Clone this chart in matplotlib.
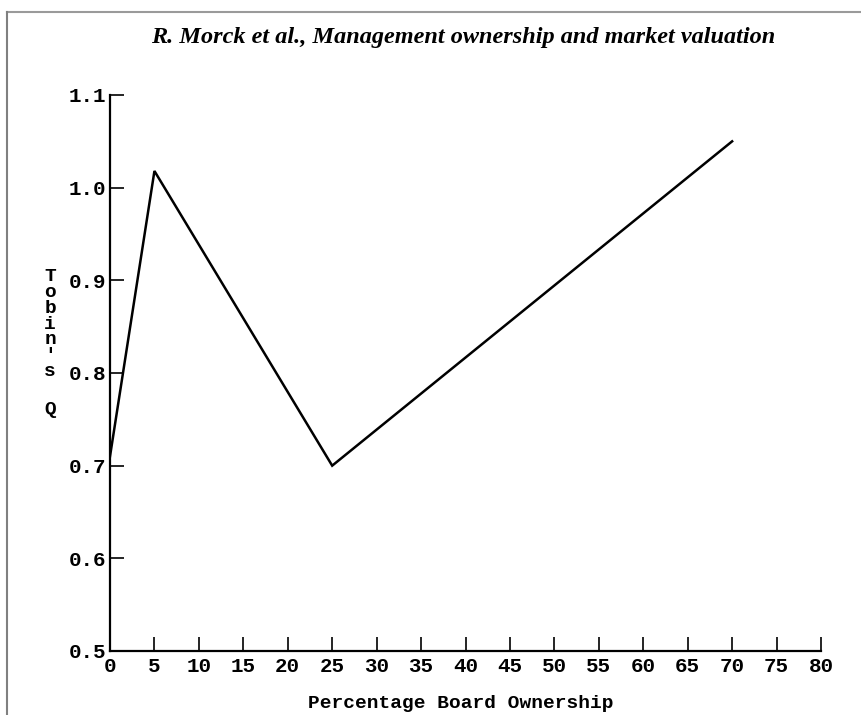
import matplotlib
matplotlib.use("Agg")
import matplotlib.pyplot as plt
from matplotlib.lines import Line2D

# Data
ownership = [0, 5, 25, 70]
tobins_q = [0.71, 1.018, 0.70, 1.05]
x_ticks = list(range(0, 85, 5))
y_ticks = [0.5, 0.6, 0.7, 0.8, 0.9, 1.0, 1.1]
y_tick_labels = ["0.5", "0.6", "0.7", "0.8", "0.9", "1.0", "1.1"]
title = "R. Morck et al., Management ownership and market valuation"
xlabel = "Percentage Board Ownership"
ylabel_top = ["T", "o", "b", "i", "n", "'", "s"]
ylabel_bottom = "Q"

mono = ["Liberation Mono", "DejaVu Sans Mono"]
serif = ["Liberation Serif", "DejaVu Serif"]

fig = plt.figure(figsize=(8.61, 7.15), dpi=100)
ax = fig.add_axes([110/861, 1-651/715, (821-110)/861, (651-95)/715])

ax.plot(ownership, tobins_q, color="black", lw=1.8, solid_joinstyle="miter")

ax.set_xlim(0, 80)
ax.set_ylim(0.5, 1.1)
ax.set_xticks(x_ticks)
ax.set_xticklabels([str(v) for v in x_ticks], family=mono, fontweight="bold", fontsize=15)
ax.set_yticks(y_ticks)
ax.set_yticklabels(y_tick_labels, family=mono, fontweight="bold", fontsize=15)
ax.tick_params(axis="both", direction="in", length=10, width=1.2, color="black")
ax.tick_params(axis="x", pad=4)
ax.tick_params(axis="y", pad=3)
for s in ["top", "right"]:
    ax.spines[s].set_visible(False)
for s in ["left", "bottom"]:
    ax.spines[s].set_linewidth(1.6)

fig.text(463/861, 1-38/715, title, family=serif, style="italic", fontweight="bold",
         fontsize=17.5, ha="center", va="center")
fig.text(461/861, 1-703/715, xlabel, family=mono, fontweight="bold", fontsize=14,
         ha="center", va="center")
fig.text(50/861, 1-324/715, "\n".join(ylabel_top), family=mono, fontweight="bold",
         fontsize=14, ha="center", va="center", linespacing=0.92)
fig.text(50/861, 1-410/715, ylabel_bottom, family=mono, fontweight="bold",
         fontsize=14, ha="center", va="center")

# gray frame of the scanned page
fig.add_artist(Line2D([7/861, 1], [1-12/715, 1-12/715], transform=fig.transFigure,
                      color="#9a9a9a", lw=1.5))
fig.add_artist(Line2D([7/861, 7/861], [0, 1-12/715], transform=fig.transFigure,
                      color="#808080", lw=1.5))

fig.savefig("out.png", dpi=100, facecolor="white")
